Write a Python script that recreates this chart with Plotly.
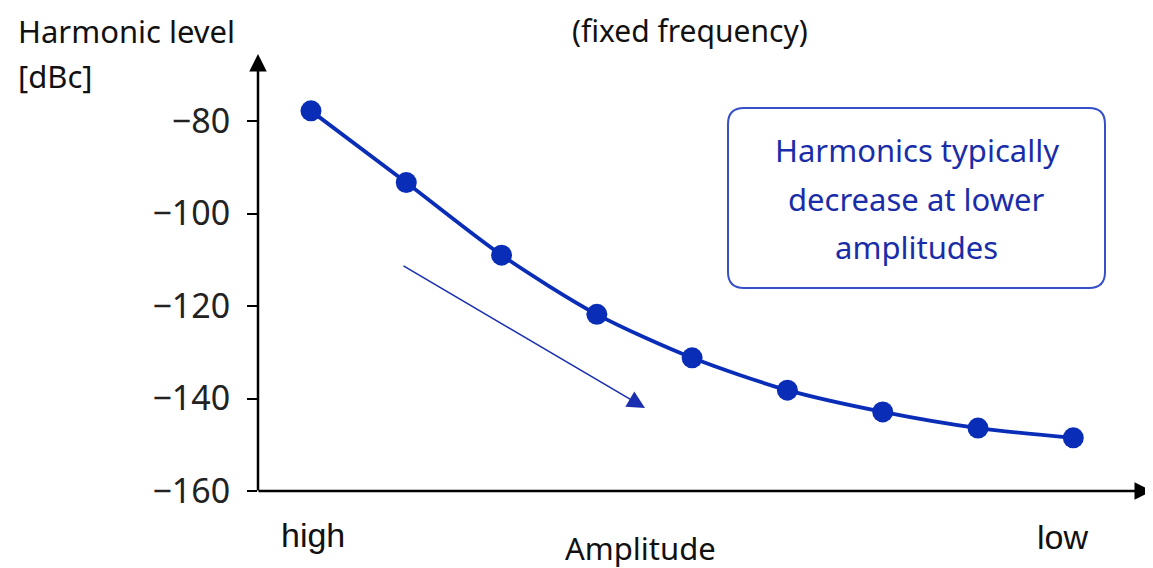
import plotly.graph_objects as go

# ---- data ----
amp_index = [0, 1, 2, 3, 4, 5, 6, 7, 8]
harmonic_dbc = [-77.8, -93.3, -109.0, -121.8, -131.2, -138.2, -142.9, -146.4, -148.5]
y_ticks = [-80, -100, -120, -140, -160]
x_end_labels = ["high", "low"]
note_lines = ["Harmonics typically", "decrease at lower", "amplitudes"]

OFF = 8                      # page body margin
W, H = 1145, 560
L, R, T, B = 250, 13, 52, 77
XR = [-0.556, 8.70]
YR = [-160, -66.8]
BLUE = "#0A2DB8"
FONT = "Noto Sans"

pw, ph = W - L - R, H - T - B


def px2x(p):
    return XR[0] + (p - OFF - L) / pw * (XR[1] - XR[0])


def py2y(p):
    return YR[1] - (p - OFF - T) / ph * (YR[1] - YR[0])


def ppx(p):
    return (p - OFF - L) / pw


def ppy(p):
    return 1 - (p - OFF - T) / ph


fig = go.Figure()
fig.add_trace(go.Scatter(
    x=amp_index, y=harmonic_dbc, mode="lines+markers",
    line=dict(color=BLUE, width=3.8, shape="spline", smoothing=0.8),
    marker=dict(color=BLUE, size=21),
    showlegend=False, hoverinfo="skip",
))

# rounded note box
x0, x1, y0, y1, r = 728, 1105, 108, 288, 16
path = (f"M {px2x(x0+r)} {py2y(y0)} L {px2x(x1-r)} {py2y(y0)} "
        f"Q {px2x(x1)} {py2y(y0)} {px2x(x1)} {py2y(y0+r)} "
        f"L {px2x(x1)} {py2y(y1-r)} Q {px2x(x1)} {py2y(y1)} {px2x(x1-r)} {py2y(y1)} "
        f"L {px2x(x0+r)} {py2y(y1)} Q {px2x(x0)} {py2y(y1)} {px2x(x0)} {py2y(y1-r)} "
        f"L {px2x(x0)} {py2y(y0+r)} Q {px2x(x0)} {py2y(y0)} {px2x(x0+r)} {py2y(y0)} Z")
fig.add_shape(type="path", path=path, xref="x", yref="y",
              line=dict(color="#3650C8", width=2), fillcolor="white", layer="below")

ann = []
for line, yc in zip(note_lines, [150, 199, 247]):
    ann.append(dict(x=ppx((x0 + x1) / 2), y=ppy(yc), xref="paper", yref="paper",
                    text=line, showarrow=False, xanchor="center", yanchor="middle",
                    font=dict(family=FONT, size=31, color="#1A2DA8")))
# trend arrow
ann.append(dict(x=px2x(645), y=py2y(408), ax=px2x(402), ay=py2y(265),
                xref="x", yref="y", axref="x", ayref="y", text="",
                showarrow=True, arrowhead=2, arrowsize=2.2, arrowwidth=1.6,
                arrowcolor="#1A2FB0"))
# axis arrows
ann.append(dict(x=0, y=1, xref="paper", yref="paper", ax=0, ay=ph + 7,
                axref="pixel", ayref="pixel", text="", showarrow=True,
                arrowhead=2, arrowsize=1.4, arrowwidth=2.5, arrowcolor="black",
                yshift=6))
ann.append(dict(x=1, y=0, xref="paper", yref="paper", ax=-pw - 13, ay=0,
                axref="pixel", ayref="pixel", text="", showarrow=True,
                arrowhead=2, arrowsize=1.4, arrowwidth=2.5, arrowcolor="black",
                xshift=12))
fig_texts = [
    ("[dBc]", 16, 76, "left", "middle", FONT, 31),
    ("Amplitude", 640, 548, "center", "middle", FONT, 31),
    (x_end_labels[0], 313, 535, "center", "middle", "Liberation Sans", 34),
    (x_end_labels[1], 1062, 537, "center", "middle", "Liberation Sans", 34),
]
for t, px, py, anc, yanc, fam, fs in fig_texts:
    ann.append(dict(x=ppx(px), y=ppy(py), xref="paper", yref="paper",
                    text=t, showarrow=False, xanchor=anc, yanchor=yanc,
                    font=dict(family=fam, size=fs, color="#111")))
ann.append(dict(x=ppx(16), y=1, yref="paper", xref="paper", yanchor="top", xanchor="left",
                text="Harmonic level", showarrow=False,
                yshift=T, font=dict(family=FONT, size=31, color="#111")))
ann.append(dict(x=ppx(690), y=1, yref="paper", xref="paper", yanchor="top",
                text="(fixed frequency)", showarrow=False,
                yshift=T, font=dict(family=FONT, size=30, color="#111")))

fig.update_layout(
    width=W, height=H, margin=dict(l=L, r=R, t=T, b=B),
    paper_bgcolor="white", plot_bgcolor="white",
    annotations=ann,
    xaxis=dict(range=XR, showgrid=False, zeroline=False, showticklabels=False,
               showline=False, ticks=""),
    yaxis=dict(range=YR, showgrid=False, zeroline=False, tickvals=y_ticks,
               ticktext=[f"\u2212{abs(v)}" for v in y_ticks],
               ticks="outside", ticklen=10, tickwidth=2, tickcolor="black",
               showline=False, ticklabelstandoff=10,
               tickfont=dict(family=FONT, size=34, color="#222")),
)
fig.write_html("out.html")
